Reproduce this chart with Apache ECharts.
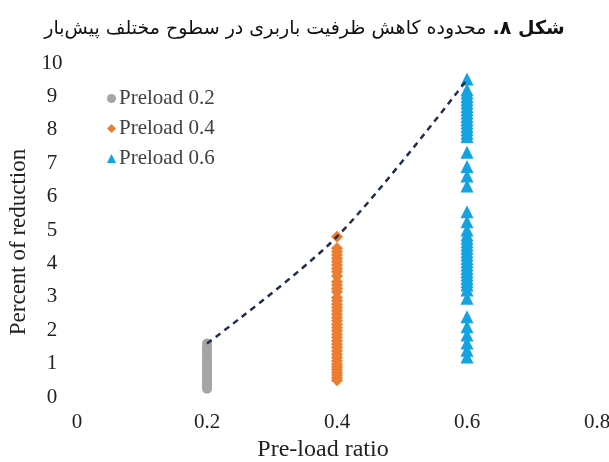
<!DOCTYPE html>
<html>
<head>
<meta charset="utf-8">
<script src="https://cdn.jsdelivr.net/npm/echarts@6/dist/echarts.min.js"></script>
<style>html,body{margin:0;padding:0;background:#fff;}#c{width:609px;height:462px;}</style>
</head>
<body>
<div id="c"></div>
<script>
// Caption words in visual left-to-right order (right-to-left script); last two pieces bold
var titleWordsVisual = ['پیش‌بار', 'مختلف', 'سطوح', 'در', 'باربری', 'ظرفیت', 'کاهش', 'محدوده'];
var titleBoldVisual = ['.۸', 'شکل'];
var seriesNames = ['Preload 0.2', 'Preload 0.4', 'Preload 0.6'];
var xTicks = [0, 0.2, 0.4, 0.6, 0.8];
var yTicks = [0, 1, 2, 3, 4, 5, 6, 7, 8, 9, 10];

var preload02 = [1.6, 1.52, 1.44, 1.36, 1.28, 1.2, 1.12, 1.05, 0.98, 0.9, 0.83, 0.76, 0.7, 0.62, 0.55, 0.48, 0.42, 0.36, 0.3, 0.25];
var preload04 = [4.8, 4.45, 4.35, 4.25, 4.15, 4.05, 3.95, 3.85, 3.75, 3.62, 3.45, 3.35, 3.25, 3.15, 2.98, 2.88, 2.78, 2.68, 2.58, 2.48, 2.38, 2.28, 2.18, 2.08, 1.98, 1.88, 1.78, 1.68, 1.58, 1.48, 1.38, 1.28, 1.18, 1.08, 0.98, 0.9, 0.82, 0.74, 0.66, 0.58, 0.5];
var preload06 = [9.52, 9.2, 9.1, 9.0, 8.9, 8.8, 8.7, 8.6, 8.5, 8.4, 8.3, 8.2, 8.1, 8.0, 7.9, 7.8, 7.33, 6.9, 6.62, 6.32, 5.55, 5.25, 5.0, 4.85, 4.75, 4.65, 4.55, 4.45, 4.35, 4.25, 4.15, 4.05, 3.95, 3.85, 3.75, 3.65, 3.55, 3.45, 3.35, 3.2, 2.96, 2.4, 2.1, 1.86, 1.62, 1.4, 1.2];
var trendX = [0.2, 0.4, 0.6];
var trendY = [1.6, 4.8, 9.5];

function pts(x, arr) { return arr.map(function (v) { return [x, v]; }); }

var titleText = titleWordsVisual.map(function (w) { return '{n|' + w + '}'; }).join('{n| }') +
  '{n| }{b|' + titleBoldVisual[0] + '}{b| }{b|' + titleBoldVisual[1] + '}';

var serif = '"Liberation Serif","Times New Roman",serif';
var chart = echarts.init(document.getElementById('c'), null, { renderer: 'canvas' });
chart.setOption({
  backgroundColor: '#ffffff',
  animation: false,
  title: {
    text: titleText,
    left: 'center',
    top: 15,
    textStyle: {
      rich: {
        b: { fontFamily: '"DejaVu Sans"', fontWeight: 'bold', fontSize: 19, color: '#111' },
        n: { fontFamily: '"DejaVu Sans"', fontWeight: 'normal', fontSize: 19, color: '#111' }
      }
    }
  },
  legend: {
    orient: 'vertical',
    left: 102,
    top: 83,
    itemWidth: 9,
    itemHeight: 9,
    itemGap: 9,
    data: seriesNames,
    textStyle: { fontFamily: serif, fontSize: 21, color: '#404040', padding: [0, 0, 0, -2] }
  },
  grid: { left: 77, right: 12, top: 63, bottom: 65, containLabel: false, outerBoundsMode: 'none' },
  xAxis: {
    type: 'value', min: xTicks[0], max: xTicks[xTicks.length - 1], interval: 0.2,
    name: 'Pre-load ratio', nameLocation: 'middle', nameGap: 41,
    nameTextStyle: { fontFamily: serif, fontSize: 24, color: '#222', padding: [0, 28, 0, 0] },
    axisLine: { show: false }, axisTick: { show: false }, splitLine: { show: false },
    axisLabel: { fontFamily: serif, fontSize: 21, color: '#222', margin: 15 }
  },
  yAxis: {
    type: 'value', min: yTicks[0], max: yTicks[yTicks.length - 1], interval: 1,
    name: 'Percent of reduction', nameLocation: 'middle', nameGap: 46,
    nameTextStyle: { fontFamily: serif, fontSize: 23, color: '#222', padding: [0, 24, 0, 0] },
    axisLine: { show: false }, axisTick: { show: false }, splitLine: { show: false },
    axisLabel: { fontFamily: serif, fontSize: 21, color: '#222', margin: 25, align: 'center', padding: [4, 0, 0, 0] }
  },
  series: [
    { name: seriesNames[0], type: 'scatter', symbol: 'circle', symbolSize: 10, data: pts(0.2, preload02), itemStyle: { color: '#a5a5a5', opacity: 1 } },
    { name: seriesNames[1], type: 'scatter', symbol: 'diamond', symbolSize: 12, data: pts(0.4, preload04), itemStyle: { color: '#ed7d31', opacity: 1 } },
    { name: seriesNames[2], type: 'scatter', symbol: 'triangle', symbolSize: 13, data: pts(0.6, preload06), itemStyle: { color: '#14a3e2', opacity: 1 } },
    { name: 'trend', type: 'line', smooth: 0.3, showSymbol: false, symbol: 'none', z: 5,
      data: trendX.map(function (x, i) { return [x, trendY[i]]; }),
      lineStyle: { color: '#1f2d4e', width: 2.5, type: [6, 5] } }
  ]
});
</script>
</body>
</html>
